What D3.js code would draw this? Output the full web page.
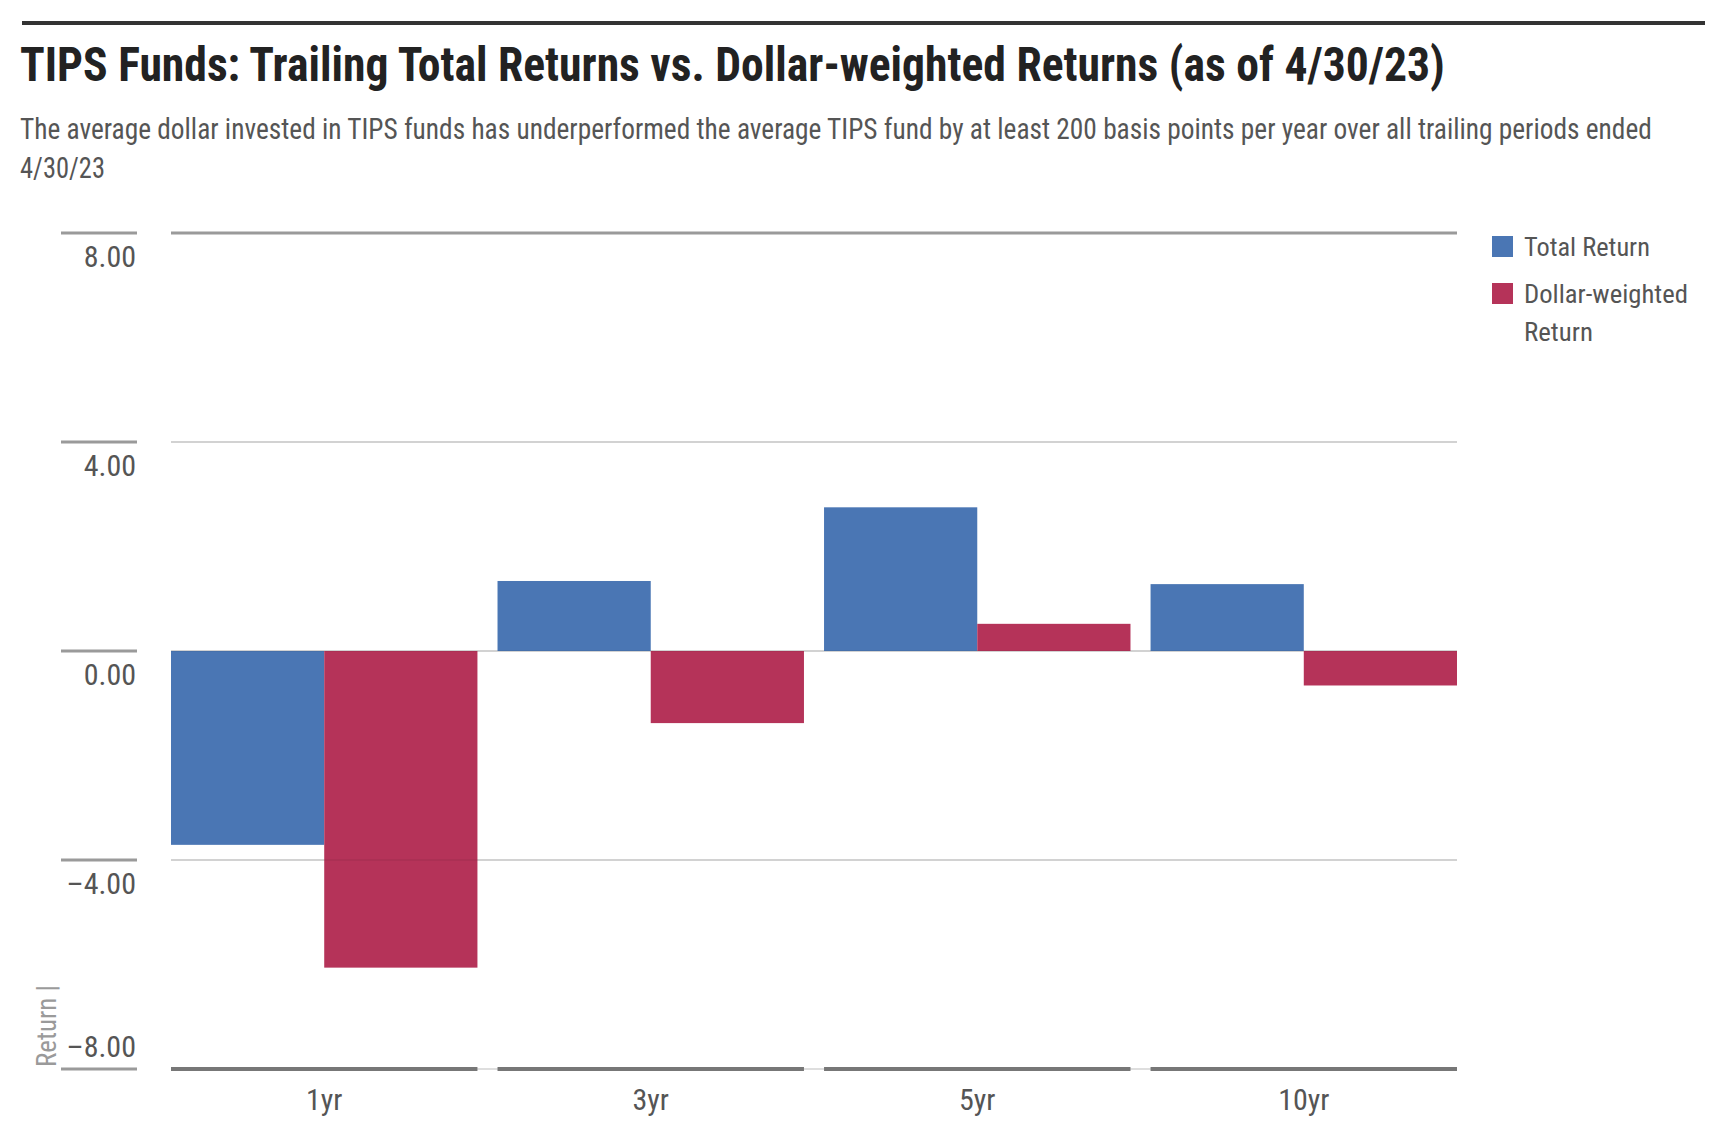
<!DOCTYPE html>
<html>
<head>
<meta charset="utf-8">
<script src="https://cdn.jsdelivr.net/npm/d3@7"></script>
<style>
  html, body { margin: 0; padding: 0; background: #fff; }
  svg { display: block; }
  text { font-family: 'Liberation Sans Narrow', 'Roboto Condensed', 'DejaVu Sans Condensed', 'Liberation Sans', sans-serif; }
</style>
</head>
<body>
<svg id="chart" width="1717" height="1141"></svg>
<script>
// ---- data ----
const categories = ["1yr", "3yr", "5yr", "10yr"];
const seriesNames = ["Total Return", "Dollar-weighted Return"];
const totalReturn = [-3.71, 1.34, 2.75, 1.28];
const dollarWeighted = [-6.06, -1.38, 0.52, -0.66];
const yTicks = [-8, -4, 0, 4, 8];
const titleText = "TIPS Funds: Trailing Total Returns vs. Dollar-weighted Returns (as of 4/30/23)";
const subtitleLines = [
  "The average dollar invested in TIPS funds has underperformed the average TIPS fund by at least 200 basis points per year over all trailing periods ended",
  "4/30/23"
];
const legendLines = [["Total Return"], ["Dollar-weighted", "Return"]];
const yAxisTitle = "Return |";

// ---- setup ----
const colors = ["#4a76b4", "#b53359"];
const svg = d3.select("#chart");

const plotLeft = 171, plotRight = 1457, plotTop = 233, plotBottom = 1069;

const y = d3.scaleLinear().domain([-8, 8]).range([plotBottom, plotTop]);
const x0 = d3.scaleBand().domain(categories).range([plotLeft, plotRight]).paddingInner(0.0615).paddingOuter(0);
const x1 = d3.scaleBand().domain(seriesNames).range([0, x0.bandwidth()]).padding(0);
const color = d3.scaleOrdinal().domain(seriesNames).range(colors);

const rows = categories.map((c, i) => ({ cat: c, vals: [
  { s: seriesNames[0], v: totalReturn[i] },
  { s: seriesNames[1], v: dollarWeighted[i] }
]}));

// helper: place a text at (x, y) and squeeze it horizontally to a target width
function placeFit(text, x, yy, w) {
  const len = text.node().getComputedTextLength();
  const sx = (len > 0 && w) ? w / len : 1;
  text.attr("x", 0).attr("y", 0)
    .attr("transform", `translate(${x},${yy}) scale(${sx},1)`);
  return text;
}

// ---- header ----
svg.append("line").attr("x1", 22).attr("x2", 1705).attr("y1", 23).attr("y2", 23)
  .attr("stroke", "#333").attr("stroke-width", 4);

placeFit(svg.append("text")
  .attr("font-size", 48).attr("font-weight", "bold").attr("fill", "#222")
  .text(titleText), 20, 81, 1425);

const subWidths = [1632, 85];
subtitleLines.forEach((t, i) => {
  placeFit(svg.append("text")
    .attr("font-size", 29).attr("fill", "#555").text(t), 20, 139 + i * 39, subWidths[i]);
});

// ---- gridlines ----
const grid = svg.append("g");
grid.selectAll("line.grid").data(yTicks).join("line")
  .attr("class", "grid")
  .attr("x1", plotLeft).attr("x2", plotRight)
  .attr("y1", d => y(d)).attr("y2", d => y(d))
  .attr("stroke", d => d === 8 ? "#9a9a9a" : "#dedede")
  .attr("stroke-width", d => d === 8 ? 3 : 2);

// left tick marks
grid.selectAll("line.tick").data(yTicks).join("line")
  .attr("class", "tick")
  .attr("x1", 61).attr("x2", 137)
  .attr("y1", d => y(d)).attr("y2", d => y(d))
  .attr("stroke", "#9a9a9a").attr("stroke-width", 3);

// tick labels
const fmt = d => (d < 0 ? "\u2013" : "") + Math.abs(d).toFixed(2);
grid.selectAll("text.ylab").data(yTicks).join("text")
  .attr("class", "ylab")
  .attr("x", 136)
  .attr("y", d => d === -8 ? y(d) - 12 : y(d) + 34)
  .attr("text-anchor", "end")
  .attr("font-size", 30).attr("fill", "#555")
  .text(fmt);

// y axis title
svg.append("text")
  .attr("transform", `translate(56, 1067) rotate(-90)`)
  .attr("font-size", 27).attr("fill", "#9a9a9a")
  .text(yAxisTitle);

// ---- bars ----
const groups = svg.append("g").selectAll("g").data(rows).join("g")
  .attr("transform", d => `translate(${x0(d.cat)},0)`);
groups.selectAll("rect").data(d => d.vals).join("rect")
  .attr("x", d => x1(d.s))
  .attr("width", x1.bandwidth())
  .attr("y", d => y(Math.max(0, d.v)))
  .attr("height", d => Math.abs(y(d.v) - y(0)))
  .attr("fill", d => color(d.s));

// faint gridline overlay through bars
svg.append("g").selectAll("line").data(yTicks.filter(d => d !== 8 && d !== -8)).join("line")
  .attr("x1", plotLeft).attr("x2", plotRight)
  .attr("y1", d => y(d)).attr("y2", d => y(d))
  .attr("stroke", "#000").attr("stroke-opacity", 0.05).attr("stroke-width", 2);

// bottom axis segments per category
svg.append("g").selectAll("line").data(categories).join("line")
  .attr("x1", d => x0(d)).attr("x2", d => x0(d) + x0.bandwidth())
  .attr("y1", y(-8)).attr("y2", y(-8))
  .attr("stroke", "#777").attr("stroke-width", 4);

// x labels
svg.append("g").selectAll("text").data(categories).join("text")
  .attr("x", d => x0(d) + x0.bandwidth() / 2)
  .attr("y", 1110)
  .attr("text-anchor", "middle")
  .attr("font-size", 30).attr("fill", "#555")
  .text(d => d);

// ---- legend ----
const legendY = [236, 283];
const legendWidths = [[126], [164, 69]];
seriesNames.forEach((s, i) => {
  svg.append("rect").attr("x", 1492).attr("y", legendY[i]).attr("width", 21).attr("height", 21)
    .attr("fill", color(s));
  legendLines[i].forEach((t, j) => {
    placeFit(svg.append("text")
      .attr("font-size", 25).attr("fill", "#555").text(t), 1524, legendY[i] + 20 + j * 38, legendWidths[i][j]);
  });
});
</script>
</body>
</html>
